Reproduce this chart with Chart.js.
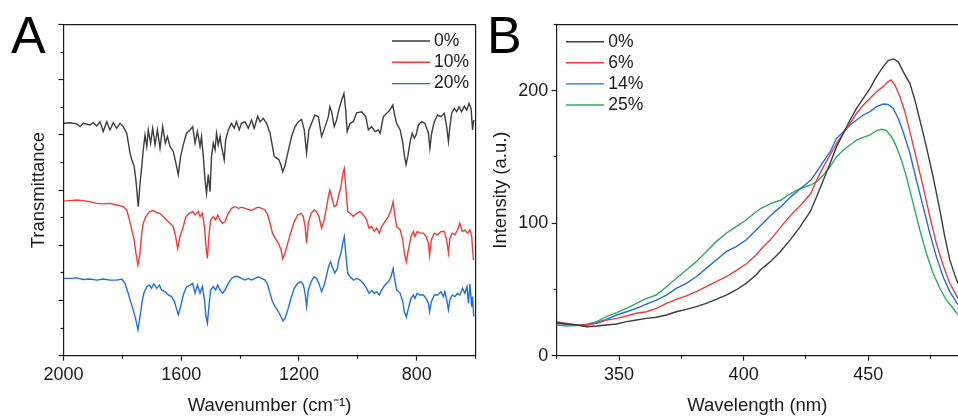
<!DOCTYPE html>
<html><head><meta charset="utf-8">
<script src="https://cdn.jsdelivr.net/npm/chart.js@4.4.1/dist/chart.umd.min.js"></script>
<style>
html,body{margin:0;padding:0;background:#fff;overflow:hidden;width:958px;height:417px;}
#wrapA{position:absolute;left:0;top:0;width:480px;height:417px;}
#wrapB{position:absolute;left:480px;top:0;width:478px;height:417px;}
.panel{position:absolute;font-family:"Liberation Sans",Arial,sans-serif;font-size:52px;line-height:1;color:#000;}
</style></head><body>
<div id="wrapA"><canvas id="cA"></canvas></div>
<div id="wrapB"><canvas id="cB"></canvas></div>
<div class="panel" style="left:11px;top:9px">A</div>
<div class="panel" style="left:487px;top:9px">B</div>
<script>
// ---------- Panel A : FTIR ----------
const aLabels = ['0%', '10%', '20%'];
const a0Wn = [2000,1978,1955,1944,1933,1910,1899,1887,1876,1865,1853,1842,1831,1819,1808,1797,1785,1774,1768,1760,1754,1746,1740,1734,1729,1723,1717,1712,1704,1697,1689,1681,1672,1663,1654,1647,1638,1627,1618,1610,1602,1593,1582,1570,1561,1553,1545,1536,1531,1525,1519,1514,1508,1502,1497,1491,1485,1480,1474,1468,1463,1454,1449,1440,1429,1420,1412,1403,1395,1383,1372,1361,1352,1340,1332,1321,1310,1298,1290,1284,1276,1268,1261,1255,1247,1238,1225,1213,1202,1191,1182,1174,1166,1157,1146,1134,1123,1111,1100,1095,1089,1080,1072,1066,1055,1047,1041,1036,1026,1015,1004,987,973,964,953,941,930,924,913,902,891,881,876,868,856,847,842,836,830,822,815,808,802,794,783,772,760,755,749,740,729,717,706,698,692,687,681,672,664,656,647,638,630,622,615,610,606];
const a0T = [4.21,4.22,4.20,4.15,4.21,4.18,4.22,4.16,4.24,4.06,4.24,4.09,4.22,4.12,4.21,4.15,4.03,3.67,3.55,3.43,3.18,2.70,3.12,3.43,3.73,4.00,3.79,4.09,3.85,4.12,3.82,4.09,3.76,4.15,3.85,3.97,3.79,3.70,3.49,3.28,3.61,3.82,4.03,4.09,4.15,3.85,4.06,3.79,3.97,3.61,3.18,2.94,3.28,2.97,3.61,3.85,3.73,4.03,3.82,3.97,3.79,3.55,3.91,4.09,4.21,4.12,4.24,4.09,4.21,4.24,4.12,4.27,4.12,4.34,4.24,4.30,4.21,4.03,3.79,3.61,3.58,3.55,3.45,3.33,3.45,3.67,3.97,4.15,4.24,4.28,4.09,3.67,4.09,4.21,4.36,4.33,3.97,4.15,4.33,4.51,4.42,4.15,4.27,4.42,4.63,4.75,4.45,4.06,4.21,4.24,4.40,4.42,4.33,4.09,4.15,4.06,4.09,4.03,4.33,4.39,4.45,4.54,4.39,4.21,4.09,3.85,3.64,3.46,3.61,3.88,4.03,3.94,4.00,4.18,4.24,4.21,4.03,3.76,4.03,4.24,4.36,4.33,4.39,4.15,3.88,4.15,4.39,4.48,4.42,4.51,4.42,4.52,4.45,4.57,4.48,4.09,4.27];
const a10Wn = [2000,1978,1955,1933,1910,1887,1865,1842,1819,1797,1785,1776,1768,1760,1754,1747,1740,1734,1729,1720,1708,1695,1683,1672,1661,1650,1638,1627,1619,1612,1604,1593,1584,1573,1561,1553,1542,1536,1528,1521,1516,1511,1507,1500,1491,1483,1476,1468,1460,1451,1440,1429,1417,1406,1395,1383,1372,1361,1349,1338,1327,1315,1306,1298,1290,1281,1270,1261,1255,1247,1238,1227,1216,1204,1193,1185,1179,1174,1168,1159,1148,1140,1132,1123,1114,1106,1100,1095,1089,1080,1072,1066,1057,1051,1046,1040,1034,1026,1015,1004,992,981,970,962,953,944,936,927,919,908,896,887,880,875,868,856,847,842,835,828,819,811,806,798,789,777,768,760,756,750,740,729,717,706,698,692,687,679,670,661,653,645,636,627,619,613,607];
const a10T = [2.80,2.81,2.82,2.81,2.79,2.76,2.75,2.76,2.73,2.70,2.64,2.46,2.28,2.10,1.86,1.64,1.86,2.22,2.40,2.52,2.61,2.63,2.59,2.58,2.52,2.46,2.40,2.34,2.16,1.94,2.16,2.34,2.52,2.58,2.61,2.55,2.61,2.52,2.58,2.34,1.98,1.76,2.10,2.46,2.52,2.46,2.55,2.46,2.40,2.43,2.58,2.67,2.70,2.67,2.69,2.67,2.65,2.63,2.67,2.69,2.67,2.64,2.55,2.40,2.22,2.13,2.04,1.92,1.76,1.86,2.04,2.24,2.43,2.55,2.58,2.52,2.34,2.04,2.40,2.58,2.64,2.61,2.52,2.31,2.46,2.70,2.88,3.00,2.88,2.70,2.73,2.88,3.06,3.30,3.39,3.00,2.61,2.58,2.52,2.58,2.61,2.55,2.46,2.31,2.34,2.25,2.31,2.22,2.34,2.43,2.52,2.64,2.79,2.58,2.34,2.28,2.10,1.86,1.70,1.92,2.16,2.25,2.16,2.25,2.22,2.22,2.16,2.04,1.82,2.10,2.22,2.19,2.25,2.25,2.10,1.86,2.13,2.22,2.19,2.28,2.40,2.25,2.28,2.22,2.28,2.16,1.73];
const a20Wn = [2000,1978,1955,1933,1910,1887,1865,1842,1819,1802,1791,1780,1772,1763,1754,1747,1740,1733,1727,1717,1708,1701,1693,1683,1674,1667,1655,1644,1633,1623,1615,1610,1602,1593,1582,1570,1561,1553,1545,1536,1528,1521,1516,1511,1507,1500,1491,1483,1476,1468,1460,1451,1440,1429,1417,1406,1395,1383,1372,1361,1349,1338,1327,1315,1306,1298,1290,1281,1270,1261,1254,1247,1238,1227,1216,1204,1193,1185,1179,1174,1168,1159,1148,1140,1132,1123,1114,1106,1098,1092,1087,1078,1069,1066,1057,1051,1046,1040,1034,1026,1015,1004,992,981,970,962,953,944,936,927,919,908,896,887,880,875,868,856,847,842,835,828,819,811,806,798,789,777,768,760,756,750,740,729,717,709,704,698,692,687,679,670,661,653,644,636,629,624,619,613,610,606];
const a20T = [1.40,1.40,1.41,1.38,1.39,1.37,1.39,1.37,1.37,1.39,1.31,1.13,0.98,0.83,0.65,0.47,0.71,0.98,1.13,1.25,1.28,1.22,1.30,1.22,1.28,1.19,1.16,1.10,1.07,0.98,0.83,0.74,0.89,1.10,1.25,1.28,1.31,1.13,1.28,1.13,1.25,1.01,0.71,0.59,0.83,1.19,1.25,1.19,1.28,1.19,1.13,1.19,1.31,1.40,1.44,1.43,1.40,1.37,1.40,1.37,1.40,1.43,1.40,1.37,1.28,1.13,0.98,0.89,0.80,0.71,0.63,0.68,0.83,1.04,1.22,1.31,1.34,1.28,1.13,0.89,1.19,1.34,1.43,1.40,1.31,1.16,1.28,1.46,1.64,1.70,1.61,1.50,1.58,1.70,1.86,2.04,2.16,1.80,1.49,1.43,1.37,1.40,1.37,1.31,1.22,1.13,1.18,1.13,1.16,1.10,1.19,1.28,1.34,1.43,1.58,1.40,1.19,1.13,0.98,0.80,0.70,0.86,1.04,1.10,1.04,1.13,1.10,1.10,1.04,0.95,0.80,0.98,1.10,1.10,1.16,1.07,1.16,1.01,0.83,1.01,1.10,1.07,1.13,1.10,1.22,1.13,1.25,0.95,1.30,0.89,1.07,0.71];
const aXMajor = [2000, 1600, 1200, 800];
const aXLabels = ['2000', '1600', '1200', '800'];
const aXMinor = [1800, 1400, 1000, 600];
const aYMajor = [0, 1, 2, 3, 4, 5, 6];
const aYMinor = [0.5, 1.5, 2.5, 3.5, 4.5, 5.5];

// ---------- Panel B : emission ----------
const bLabels = ['0%', '6%', '14%', '25%'];
const b0Nm = [325,329,333,337,341,345,349,353,357,361,365,369,373,377,381,385,389,393,397,401,405,406.7,410.7,414.7,418.7,422.7,426.7,429.3,432,434.7,437.3,440,442.7,445.3,448,450.7,453.3,456,458,460,462,464,466.7,468.7,470.7,473.3,476,478.7,480.7,482.7,484.7,486];
const b0I = [24.9,23.9,23.2,21.9,22.4,23.2,23.9,25.7,26.9,28.2,29.0,30.7,33.2,35.0,37.0,39.5,42.5,45.8,49.6,54.6,60.9,64.7,71.0,78.5,87.4,97.4,108.7,120.1,132.6,145.2,157.8,167.9,177.9,186.7,194.3,201.8,210.6,218.2,222.7,224.0,222.0,214.4,205.6,193.0,177.9,157.8,135.2,110.0,89.9,72.3,61.0,54.7];
const b6Nm = [325,329,333,337,341,345,349,353,357,361,365,369,373,377,381,385,389,393,397,401,405,407,411,415,419,423,427,429.3,432,434.7,437.3,440,442.7,445.3,448,450.7,453.3,456,458,459.1,460.7,462.7,464.7,466.7,469.3,472,474.7,477.3,480,482.7,486];
const b6I = [25.7,24.4,23.2,23.2,24.4,26.9,28.2,30.0,32.0,33.2,35.7,39.5,42.5,45.1,48.3,52.1,55.9,59.6,64.2,69.2,76.0,80.5,88.0,97.4,106.2,113.8,122.6,132.6,142.7,151.5,160.3,167.9,175.4,183.0,189.2,194.3,199.3,203.1,206.9,208.1,204.3,195.5,184.2,169.1,149.0,127.6,105.0,84.8,68.5,54.7,43.3];
const b14Nm = [325,329,333,337,341,345,349,353,357,361,365,369,373,377,381,385,389,393,397,401,405,407,411,415,419,423,427,429.3,432,434.7,437.3,440,442.7,445.3,448,450.7,453.3,456,458,460,462,464,466.7,469.3,472,474.7,477.3,480,482.7,486];
const b14I = [24.4,23.7,23.2,23.2,24.9,27.4,30.7,33.2,35.7,39.0,42.0,45.8,50.8,54.6,59.6,65.9,72.2,78.5,82.3,87.3,94.9,98.7,106.2,112.5,120.1,126.4,132.6,138.9,146.5,154.0,164.1,169.1,174.1,177.9,181.7,184.2,188.0,190.0,189.7,186.7,179.2,169.1,152.8,132.6,112.5,92.4,74.8,59.7,48.4,38.3];
const b25Nm = [325,329,333,337,341,345,349,353,357,361,365,369,373,377,381,385,389,393,397,401,405,407,411,415,419,423,427,429.3,432,434.7,437.3,440,442.7,445.3,448,450.7,453.3,455.3,457.3,459.3,461.3,463.3,465.3,468,470.7,473.3,476,478.7,481.3,484,486];
const b25I = [23.2,22.4,22.7,23.7,25.7,29.5,32.5,35.7,39.5,43.3,45.8,52.1,58.4,64.7,71.0,78.5,86.1,92.4,97.4,102.4,108.7,111.3,115.0,117.5,122.6,126.4,128.9,131.4,136.4,142.7,150.2,155.3,159.0,162.8,164.8,166.6,169.9,170.9,169.9,165.3,157.8,147.7,135.2,115.0,94.9,77.3,62.2,50.9,42.1,35.8,30.8];
const bXMajor = [350, 400, 450];
const bXLabels = ['350', '400', '450'];
const bXMinor = [325, 375, 425, 475];
const bYMajor = [0, 100, 200];
const bYLabels = ['0', '100', '200'];
const bYMinor = [50, 150, 250];

// ---------- styling ----------
const INK = '#1a1a1a';
const FAM = '"Liberation Sans", Arial, sans-serif';
const TICK_FONT = {family: FAM, size: 18};
const TITLE_FONT = {family: FAM, size: 18.5};
const C_BLACK = '#3d3d3d', C_RED = '#f23a3a', C_BLUE = '#1f6fe3', C_GREEN = '#2eaa62';

function pts(xs, ys) { return xs.map((x, i) => ({x: x, y: ys[i]})); }
function ds(label, xs, ys, color) {
  return {label: label, data: pts(xs, ys), borderColor: color, backgroundColor: color,
    borderWidth: 1.4, pointRadius: 0, tension: 0, fill: false, xAxisID: 'x', yAxisID: 'y'};
}
function setTicks(list) { return s => { s.ticks = list.map(v => ({value: v})); }; }

function mainAxis(pos, min, max, major, labels, size, title, titlePad, reverse, weight) {
  const horiz = pos === 'bottom' || pos === 'top';
  return {
    type: 'linear', position: pos, axis: horiz ? 'x' : 'y', min: min, max: max, reverse: !!reverse, weight: weight,
    afterBuildTicks: setTicks(major),
    afterFit: s => { if (horiz) s.height = size; else s.width = size; },
    grid: {drawOnChartArea: false, drawTicks: true, tickLength: 5, tickWidth: 1.2, tickColor: INK},
    border: {display: true, color: INK, width: 1.2},
    ticks: labels ? {display: true, font: TICK_FONT, color: INK, padding: 3.5, maxRotation: 0, autoSkip: false,
      callback: (v, i) => labels[i]} : {display: false},
    title: {display: true, text: title, font: TITLE_FONT, color: INK, padding: titlePad}
  };
}
function minorAxis(pos, min, max, minor, reverse, weight) {
  const horiz = pos === 'bottom' || pos === 'top';
  return {
    type: 'linear', position: pos, axis: horiz ? 'x' : 'y', min: min, max: max, reverse: !!reverse, weight: weight,
    afterBuildTicks: setTicks(minor),
    afterFit: s => { if (horiz) s.height = 0; else s.width = 0; },
    grid: {drawOnChartArea: false, drawTicks: true, tickLength: 3, tickWidth: 1.2, tickColor: INK},
    border: {display: false},
    ticks: {display: false}
  };
}
function frameAxis(pos) {
  const horiz = pos === 'bottom' || pos === 'top';
  return {
    type: 'linear', position: pos, axis: horiz ? 'x' : 'y', min: 0, max: 1,
    afterFit: s => { if (horiz) s.height = 0; else s.width = 0; },
    grid: {drawOnChartArea: false, drawTicks: false},
    border: {display: true, color: INK, width: 1.2},
    ticks: {display: false}
  };
}

const legendPlugin = {
  id: 'lineLegend',
  afterDatasetsDraw(chart, args, o) {
    const ctx = chart.ctx;
    ctx.save();
    ctx.font = o.size + 'px ' + FAM;
    ctx.textBaseline = 'middle';
    ctx.textAlign = 'left';
    chart.data.datasets.forEach((d, i) => {
      const y = o.y + i * o.rowH;
      ctx.strokeStyle = d.borderColor; ctx.lineWidth = 1.4;
      ctx.beginPath(); ctx.moveTo(o.x, y); ctx.lineTo(o.x + o.len, y); ctx.stroke();
      ctx.fillStyle = INK;
      ctx.fillText(d.label, o.x + o.len + o.gap, y);
    });
    ctx.restore();
  }
};

const common = {
  responsive: true, maintainAspectRatio: false, animation: false,
  plugins: {legend: {display: false}, tooltip: {enabled: false}}
};

new Chart(document.getElementById('cA'), {
  type: 'line',
  data: {datasets: [
    ds(aLabels[0], a0Wn, a0T, C_BLACK),
    ds(aLabels[1], a10Wn, a10T, C_RED),
    ds(aLabels[2], a20Wn, a20T, C_BLUE)
  ]},
  options: Object.assign({}, common, {
    layout: {padding: {top: 24.5, right: 4.5, left: 0, bottom: 0}},
    plugins: Object.assign({}, common.plugins, {lineLegend: {x: 392, y: 41, len: 38, gap: 4, rowH: 21.3, size: 17.5}}),
    scales: {
      x: mainAxis('bottom', 600, 2000, aXMajor, aXLabels, 61.3, 'Wavenumber (cm\u207B\u00B9)', {top: 0, bottom: 0}, true, 1),
      xm: minorAxis('bottom', 600, 2000, aXMinor, true, 0),
      y: mainAxis('left', 0, 6, aYMajor, null, 63.5, 'Transmittance', {top: 27.9, bottom: 0}, false, 1),
      ym: minorAxis('left', 0, 6, aYMinor, false, 0),
      xt: frameAxis('top'),
      yr: frameAxis('right')
    }
  }),
  plugins: [legendPlugin]
});

new Chart(document.getElementById('cB'), {
  type: 'line',
  data: {datasets: [
    ds(bLabels[0], b0Nm, b0I, C_BLACK),
    ds(bLabels[1], b6Nm, b6I, C_RED),
    ds(bLabels[2], b14Nm, b14I, C_BLUE),
    ds(bLabels[3], b25Nm, b25I, C_GREEN)
  ]},
  options: Object.assign({}, common, {
    layout: {padding: {top: 24.5, right: 0, left: 0, bottom: 0}},
    plugins: Object.assign({}, common.plugins, {lineLegend: {x: 86, y: 41.7, len: 38, gap: 4.3, rowH: 21.1, size: 17.5}}),
    scales: {
      x: mainAxis('bottom', 325, 486, bXMajor, bXLabels, 61.3, 'Wavelength (nm)', {top: 0, bottom: 0}, false, 1),
      xm: minorAxis('bottom', 325, 486, bXMinor, false, 0),
      y: mainAxis('left', 0, 250, bYMajor, bYLabels, 76.7, 'Intensity (a.u.)', {top: 9.7, bottom: 0}, false, 1),
      ym: minorAxis('left', 0, 250, bYMinor, false, 0),
      xt: frameAxis('top')
    }
  }),
  plugins: [legendPlugin]
});
</script>
</body></html>
